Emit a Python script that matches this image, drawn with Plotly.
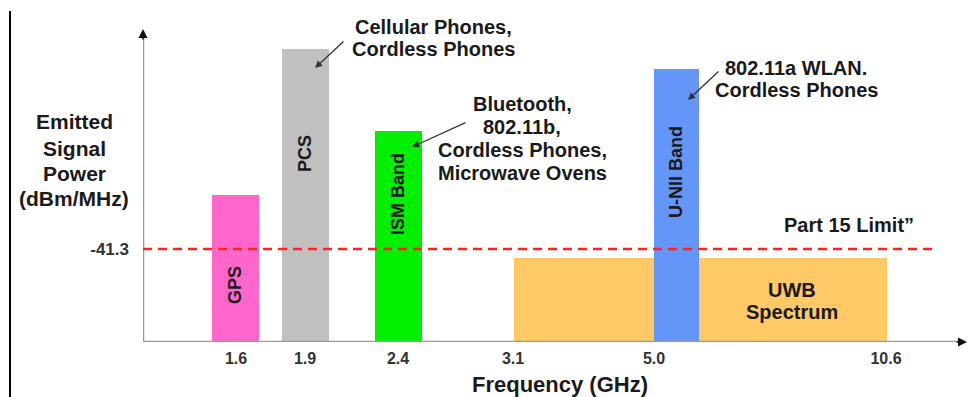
import plotly.graph_objects as go

# ---------------- data (schematic diagram units) ----------------
band_names = ["UWB Spectrum", "GPS", "PCS", "ISM Band", "U-NII Band"]
band_start = [371, 69, 139, 232, 511]
band_end = [744, 116, 186, 279, 556]
band_level = [84, 147, 293, 211, 273]
band_colors = ["#FFC966", "#FF66CC", "#C0C0C0", "#00F000", "#6495F8"]

tick_positions = [93, 162, 255, 370, 511, 743]
tick_labels = ["1.6", "1.9", "2.4", "3.1", "5.0", "10.6"]

limit_value_label = "-41.3"
limit_level = 93
limit_extent = [0, 792]

x_max = 824
y_max = 313

FONT = "Liberation Sans, Arial, sans-serif"
TXT = "#1a1a1a"

fig = go.Figure()

# bands
for name, s, e, h, c in zip(band_names, band_start, band_end, band_level, band_colors):
    fig.add_trace(go.Bar(
        x=[(s + e) / 2], y=[h], base=0, width=[e - s],
        marker=dict(color=c, line=dict(width=0)),
        name=name, hoverinfo="skip", showlegend=False,
    ))

# axes lines
fig.add_trace(go.Scatter(x=[0, x_max - 2], y=[0, 0], mode="lines",
                         line=dict(color="#9a9a9a", width=2.5),
                         hoverinfo="skip", showlegend=False, cliponaxis=False))
fig.add_trace(go.Scatter(x=[0, 0], y=[0, y_max - 2], mode="lines",
                         line=dict(color="#9a9a9a", width=2.5),
                         hoverinfo="skip", showlegend=False, cliponaxis=False))

# Part 15 limit
fig.add_trace(go.Scatter(x=limit_extent, y=[limit_level, limit_level], mode="lines",
                         line=dict(color="#FF2222", width=2.5, dash="9px,6px"),
                         hoverinfo="skip", showlegend=False))

annotations = []

def text_lines(lines, x, ys, size=20, xanchor="center"):
    # positions given in diagram units, converted to paper fractions so that
    # labels outside the plotting range are still drawn
    for t, yy in zip(lines, ys):
        annotations.append(dict(
            x=x / x_max, y=yy / y_max, xref="paper", yref="paper", text=t,
            showarrow=False, xanchor=xanchor, yanchor="middle",
            font=dict(family=FONT, size=size, color=TXT, weight=700)))

def arrow(head, tail):
    annotations.append(dict(
        x=head[0], y=head[1], ax=tail[0], ay=tail[1], xref="x", yref="y",
        axref="x", ayref="y", text="", showarrow=True, arrowhead=2,
        arrowsize=1.1, arrowwidth=1.3, arrowcolor="#333333"))

# rotated band labels
band_label_pos = {"GPS": (92, 57), "PCS": (162, 188), "ISM Band": (255, 148), "U-NII Band": (533, 170)}
for t, (xx, yy) in band_label_pos.items():
    annotations.append(dict(x=xx, y=yy, xref="x", yref="y", text=t, showarrow=False,
                            textangle=-90,
                            font=dict(family=FONT, size=18, color=TXT, weight=700)))

# callouts
text_lines(["Cellular Phones,", "Cordless Phones"], 290, [315, 293])
arrow((172, 274), (202, 302))
text_lines(["Bluetooth,", "802.11b,", "Cordless Phones,", "Microwave Ovens"], 379, [238, 215, 192, 169])
arrow((269, 195), (324, 220))
text_lines(["802.11a WLAN.", "Cordless Phones"], 653, [274, 252])
arrow((545, 242), (577, 272))
text_lines(["Part 15 Limit\u201d"], 706, [117])
text_lines(["UWB", "Spectrum"], 649, [52, 30])

# y title
text_lines(["Emitted", "Signal", "Power", "(dBm/MHz)"], -69, [220, 194, 169, 144], size=21)
# x title
text_lines(["Frequency (GHz)"], 417, [-42], size=22)

# axis arrowheads
annotations.append(dict(x=x_max, y=0, xref="x", yref="y", ax=-12, ay=0, text="",
                        showarrow=True, arrowhead=2, arrowsize=1.2, arrowwidth=1.5,
                        arrowcolor="#111111"))
annotations.append(dict(x=0, y=y_max, xref="x", yref="y", ax=0, ay=12, text="",
                        showarrow=True, arrowhead=2, arrowsize=1.2, arrowwidth=1.5,
                        arrowcolor="#111111"))

fig.update_layout(
    width=968, height=397,
    margin=dict(l=143, r=1, t=29, b=55),
    paper_bgcolor="white", plot_bgcolor="white",
    barmode="overlay",
    annotations=annotations,
    shapes=[dict(type="line", xref="paper", yref="paper",
                 x0=-133 / 824, x1=-133 / 824, y0=1 + 18 / 313, y1=-56 / 313,
                 line=dict(color="#000000", width=2))],
    xaxis=dict(range=[0, x_max], showgrid=False, zeroline=False, showline=False,
               tickmode="array", tickvals=tick_positions, ticktext=tick_labels,
               ticks="", ticklabelstandoff=5,
               tickfont=dict(family=FONT, size=16, color="#333333", weight=700)),
    yaxis=dict(range=[0, y_max], showgrid=False, zeroline=False, showline=False,
               tickmode="array", tickvals=[limit_level], ticktext=[limit_value_label],
               ticks="", ticklabelstandoff=13,
               tickfont=dict(family=FONT, size=17, color="#333333", weight=700)),
)

fig.write_html("out.html",
               config={"displayModeBar": False},
               post_script="document.body.style.margin='0';document.body.style.overflow='hidden';")
